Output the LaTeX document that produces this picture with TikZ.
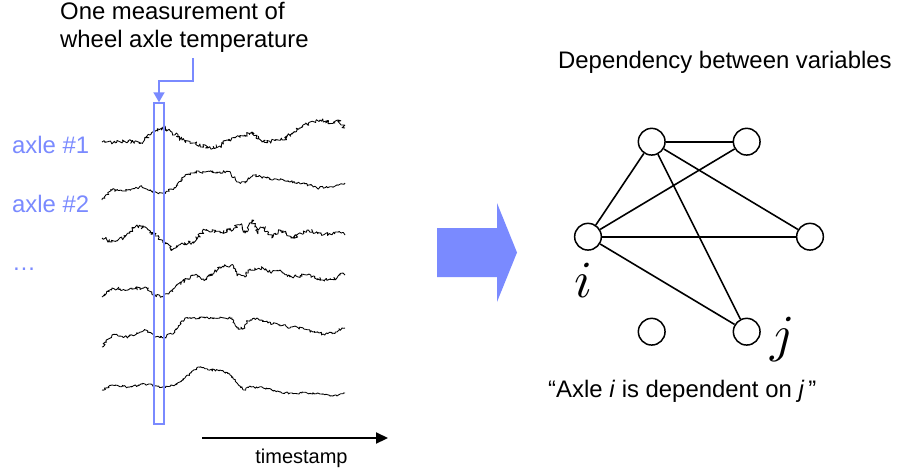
\documentclass[tikz,border=0pt]{standalone}
\usepackage{graphicx}
\usepackage{fontspec}
\setmainfont{Liberation Sans}
\usetikzlibrary{arrows.meta,decorations.pathmorphing}
\definecolor{axblue}{RGB}{122,138,255}
\begin{document}
\begin{tikzpicture}[x=1pt,y=-1pt,
  lbl/.style={font=\fontsize{23.9}{28}\selectfont, inner sep=0pt, anchor=base west},
  serie/.style={line width=0.85pt, line join=round, decorate, decoration={random steps, segment length=1.3pt, amplitude=#1}},
  vert/.style={circle, draw, line width=1.5pt, minimum size=26.7pt, inner sep=0pt},
  edge/.style={line width=1.6pt},
  mathlbl/.style={font=\fontsize{10}{12}\selectfont, inner sep=0pt, anchor=base}]
\useasboundingbox (0,0) rectangle (898,475);

% title texts
\node[lbl] (meas1) at (60,19) {One measurement of};
\node[lbl] (meas2) at (60,47) {wheel axle temperature};
\node[lbl] (dep) at (558,68) {Dependency between variables};

% axle labels
\node[lbl, text=axblue] (ax1) at (12,153) {axle \#1};
\node[lbl, text=axblue] (ax2) at (12,212) {axle \#2};
\node[lbl, text=axblue] (axd) at (12,270) {\dots};

% time series
\pgfmathsetseed{4242}
\draw[serie=2pt] (102,142) -- (115,142) -- (128,141) -- (142,143) -- (150,135) -- (163,127) -- (172,132) -- (182,140) -- (195,143) -- (208,148) -- (220,146) -- (227,140) -- (240,137) -- (252,132) -- (262,142) -- (283,140) -- (290,135) -- (303,125) -- (320,120) -- (333,123) -- (338,120) -- (345,128);
\draw[serie=1.4pt] (102,200) -- (112,190) -- (128,190) -- (142,187) -- (155,192) -- (163,193) -- (175,188) -- (185,175) -- (195,172) -- (205,172) -- (220,172) -- (230,172) -- (237,182) -- (245,183) -- (253,175) -- (267,178) -- (280,180) -- (290,182) -- (303,183) -- (317,188) -- (333,187) -- (345,183);
\draw[serie=2pt] (102,238) -- (112,242) -- (125,237) -- (137,225) -- (148,230) -- (162,240) -- (172,250) -- (182,243) -- (192,243) -- (205,230) -- (220,232) -- (230,230) -- (240,225) -- (245,233) -- (252,220) -- (257,232) -- (263,227) -- (273,237) -- (280,230) -- (293,238) -- (307,230) -- (323,235) -- (335,232) -- (345,235);
\draw[serie=1.6pt] (102,297) -- (112,288) -- (128,290) -- (145,287) -- (153,295) -- (163,297) -- (172,290) -- (185,280) -- (195,275) -- (205,280) -- (220,267) -- (233,265) -- (237,275) -- (245,277) -- (248,270) -- (263,268) -- (270,272) -- (280,270) -- (290,277) -- (307,275) -- (323,280) -- (337,278) -- (343,273) -- (345,275);
\draw[serie=1.4pt] (102,347) -- (112,335) -- (128,337) -- (145,330) -- (155,337) -- (163,338) -- (175,332) -- (185,318) -- (195,318) -- (205,318) -- (220,318) -- (232,318) -- (237,328) -- (245,328) -- (247,322) -- (257,318) -- (268,323) -- (283,325) -- (290,328) -- (297,327) -- (313,332) -- (323,334) -- (337,332) -- (342,328) -- (345,328);
\draw[serie=1.1pt] (102,390) -- (112,385) -- (128,387) -- (145,384) -- (155,386) -- (163,387) -- (175,385) -- (185,378) -- (198,367) -- (208,370) -- (220,370) -- (230,375) -- (237,383) -- (245,390) -- (248,387) -- (263,388) -- (280,392) -- (290,393) -- (307,393) -- (320,394) -- (337,396) -- (345,393);

% measurement window
\node[draw=axblue, line width=1.5pt, minimum width=10pt, minimum height=321pt, inner sep=0pt] (win) at (159,263.5) {};
\coordinate (mstart) at (193,58);
\coordinate (mbend) at (193,81);
\draw[axblue, line width=1.8pt, -{Triangle[width=11pt,length=10pt]}] (mstart) -- (mbend) -| (win.north);

% timestamp axis
\coordinate (ts0) at (202,438);
\coordinate (ts1) at (388,438);
\draw[line width=2.2pt, -{Triangle[width=11pt,length=12pt]}] (ts0) -- (ts1);
\node[font=\fontsize{20}{24}\selectfont, inner sep=0pt, anchor=base] (tslbl) at (301.5,463) {timestamp};

% big arrow
\fill[axblue] (437,228) -- (497,228) -- (497,203) -- (517,252.5) -- (497,302) -- (497,277) -- (437,277) -- cycle;

% graph
\node[vert] (A) at (651.7,141.7) {};
\node[vert] (B) at (746.7,141.7) {};
\node[vert] (C) at (588,236.7) {};
\node[vert] (D) at (810,236.7) {};
\node[vert] (E) at (651.7,331.7) {};
\node[vert] (F) at (746.7,331.7) {};
\draw[edge] (A) -- (B);
\draw[edge] (A) -- (C);
\draw[edge] (A) -- (D);
\draw[edge] (A) -- (F);
\draw[edge] (B) -- (C);
\draw[edge] (C) -- (D);
\draw[edge] (C) -- (F);
\node[mathlbl] (ilbl) at (583,297) {\scalebox{5.2}{$i$}};
\node[mathlbl] (jlbl) at (783,351) {\scalebox{5.2}{$j$}};

\node[lbl] (quote) at (548,397) {“Axle \textit{i} is dependent on \textit{j}\,”};
\end{tikzpicture}
\end{document}
